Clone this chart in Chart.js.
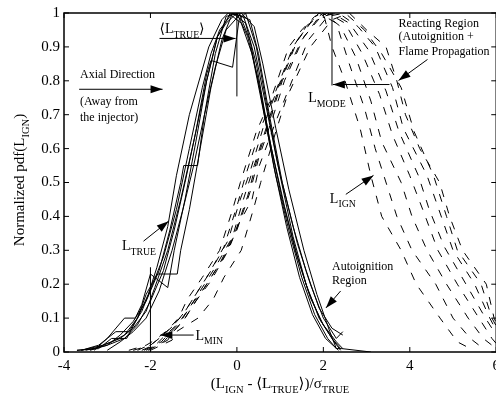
<!DOCTYPE html>
<html><head><meta charset="utf-8">
<script src="https://cdn.jsdelivr.net/npm/chart.js@4/dist/chart.umd.min.js"></script>
<style>html,body{margin:0;padding:0;overflow:hidden;background:#fff}#wrap{width:505px;height:398px;position:relative}</style>
</head><body><div id="wrap"><canvas id="c"></canvas></div>
<script>
// ---- tick labels ----
const xTickLabels = ['-4','-2','0','2','4','6'];
const yTickLabels = ['0','0.1','0.2','0.3','0.4','0.5','0.6','0.7','0.8','0.9','1'];

// ---- L_TRUE pdf curves (solid) : [x, y] ----
const trueCurve1 = [[-3.7,0.005],[-3.3,0.01],[-2.9,0.03],[-2.6,0.05],[-2.3,0.1],[-2.05,0.17],[-1.85,0.25],[-1.6,0.37],[-1.4,0.52],[-1.1,0.7],[-0.65,0.9],[-0.35,0.98],[-0.2,1.0],[0.1,0.97],[0.35,0.88],[0.6,0.72],[0.9,0.52],[1.2,0.36],[1.5,0.22],[1.8,0.11],[2.1,0.04],[2.3,0.01]];
const trueCurve2 = [[-3.6,0.005],[-3.1,0.02],[-2.7,0.04],[-2.4,0.07],[-2.1,0.12],[-1.9,0.19],[-1.6,0.3],[-1.3,0.45],[-1.0,0.62],[-0.7,0.8],[-0.45,0.93],[-0.25,0.97],[0.0,1.0],[0.25,0.93],[0.5,0.8],[0.8,0.6],[1.1,0.43],[1.4,0.28],[1.7,0.16],[2.0,0.08],[2.3,0.03],[2.45,0.01]];
const trueCurve3 = [[-3.5,0.005],[-3.0,0.02],[-2.6,0.04],[-2.3,0.08],[-2.0,0.15],[-1.7,0.24],[-1.45,0.36],[-1.2,0.5],[-0.95,0.65],[-0.7,0.82],[-0.6,0.86],[-0.1,0.84],[0.05,0.98],[0.2,1.0],[0.45,0.9],[0.7,0.72],[1.0,0.52],[1.3,0.34],[1.6,0.2],[1.9,0.1],[2.2,0.04],[2.4,0.01]];
const trueCurve4 = [[-3.4,0.005],[-3.0,0.02],[-2.7,0.05],[-2.4,0.09],[-2.1,0.15],[-1.8,0.24],[-1.55,0.36],[-1.3,0.5],[-1.23,0.55],[-0.91,0.55],[-0.75,0.7],[-0.5,0.88],[-0.25,0.99],[0.05,1.0],[0.3,0.92],[0.55,0.76],[0.85,0.55],[1.15,0.37],[1.45,0.22],[1.75,0.11],[2.05,0.04],[2.35,0.005]];
const trueCurve5 = [[-3.7,0.005],[-3.2,0.01],[-2.9,0.04],[-2.55,0.04],[-2.3,0.1],[-2.1,0.17],[-1.84,0.23],[-1.38,0.23],[-1.3,0.3],[-1.1,0.42],[-0.85,0.6],[-0.6,0.78],[-0.35,0.92],[-0.1,1.0],[0.2,0.97],[0.45,0.85],[0.75,0.63],[1.05,0.45],[1.35,0.3],[1.65,0.18],[1.95,0.09],[2.25,0.03],[2.4,0.005]];
const trueCurve6 = [[-3.3,0.005],[-3.0,0.04],[-2.6,0.1],[-2.35,0.1],[-2.2,0.14],[-2.0,0.23],[-1.6,0.19],[-1.45,0.3],[-1.2,0.45],[-0.95,0.62],[-0.7,0.8],[-0.45,0.93],[-0.15,1.0],[0.15,0.99],[0.4,0.9],[0.65,0.74],[0.95,0.55],[1.3,0.37],[1.6,0.24],[1.9,0.13],[2.2,0.07],[2.45,0.05]];
const trueCurve7 = [[-3.0,0.005],[-2.7,0.03],[-2.4,0.06],[-2.1,0.1],[-1.8,0.18],[-1.5,0.3],[-1.25,0.42],[-1.0,0.55],[-0.75,0.7],[-0.5,0.84],[-0.25,0.95],[0.1,1.0],[0.4,0.96],[0.6,0.85],[0.9,0.66],[1.2,0.48],[1.55,0.3],[1.85,0.17],[2.15,0.06],[2.3,0.01],[2.43,0.01],[3.1,0.0]];
const trueCurve8 = [[-3.6,0.005],[-3.2,0.02],[-2.8,0.06],[-2.5,0.06],[-2.2,0.12],[-1.95,0.2],[-1.7,0.28],[-1.4,0.42],[-1.1,0.6],[-0.8,0.78],[-0.6,0.88],[-0.4,0.95],[-0.1,1.0],[0.3,0.98],[0.5,0.88],[0.75,0.7],[1.05,0.5],[1.4,0.32],[1.7,0.2],[2.0,0.1],[2.3,0.04],[2.45,0.06]];

// ---- L_IGN pdf curves (dashed) : [x, y] ----
const ignCurve1 = [[-2.5,0.005],[-2.1,0.02],[-1.9,0.035],[-1.6,0.065],[-1.35,0.1],[-1.15,0.155],[-0.8,0.22],[-0.4,0.3],[-0.1,0.42],[0.08,0.5],[0.45,0.65],[0.8,0.75],[1.2,0.9],[1.5,0.95],[1.8,0.99],[2.0,1.0],[2.2,0.9],[2.5,0.8],[2.85,0.66],[3.1,0.52],[3.35,0.4],[3.8,0.3],[4.15,0.2],[4.7,0.1],[5.1,0.03],[5.4,0.01]];
const ignCurve2 = [[-2.4,0.005],[-2.0,0.02],[-1.8,0.04],[-1.5,0.075],[-1.25,0.11],[-1.0,0.16],[-0.7,0.22],[-0.3,0.31],[0.0,0.43],[0.2,0.52],[0.55,0.66],[0.9,0.77],[1.3,0.9],[1.6,0.96],[1.9,1.0],[2.3,0.97],[2.6,0.85],[2.95,0.72],[3.2,0.6],[3.5,0.48],[3.7,0.4],[4.05,0.3],[4.6,0.2],[5.0,0.1],[5.4,0.04],[5.7,0.01]];
const ignCurve3 = [[-2.3,0.005],[-1.95,0.025],[-1.75,0.045],[-1.45,0.08],[-1.2,0.12],[-0.95,0.17],[-0.6,0.24],[-0.2,0.33],[0.05,0.44],[0.3,0.53],[0.65,0.68],[0.95,0.78],[1.35,0.91],[1.7,0.97],[2.0,1.0],[2.4,0.96],[2.75,0.87],[3.1,0.74],[3.35,0.62],[3.8,0.5],[4.05,0.4],[4.4,0.3],[4.85,0.2],[5.35,0.1],[5.7,0.04],[6.0,0.01]];
const ignCurve4 = [[-2.2,0.005],[-1.85,0.025],[-1.65,0.05],[-1.35,0.085],[-1.1,0.13],[-0.85,0.18],[-0.5,0.25],[-0.1,0.34],[0.15,0.45],[0.4,0.55],[0.75,0.69],[1.0,0.79],[1.4,0.92],[1.75,0.98],[2.1,1.0],[2.5,0.97],[2.9,0.88],[3.3,0.76],[3.6,0.64],[4.0,0.52],[4.3,0.42],[4.65,0.3],[5.1,0.2],[5.6,0.1],[5.9,0.04],[6.1,0.01]];
const ignCurve5 = [[-2.15,0.005],[-1.75,0.03],[-1.6,0.05],[-1.3,0.09],[-1.05,0.14],[-0.75,0.19],[-0.4,0.26],[-0.05,0.35],[0.25,0.46],[0.45,0.56],[0.8,0.7],[1.05,0.8],[1.5,0.92],[1.85,0.98],[2.2,1.0],[2.6,0.97],[3.05,0.89],[3.45,0.77],[3.75,0.65],[4.2,0.52],[4.45,0.42],[4.8,0.31],[5.3,0.2],[5.75,0.1],[6.05,0.04]];
const ignCurve6 = [[-2.1,0.005],[-1.7,0.03],[-1.55,0.05],[-1.25,0.09],[-1.0,0.14],[-0.7,0.2],[-0.3,0.28],[0.0,0.36],[0.3,0.47],[0.5,0.57],[0.85,0.7],[1.1,0.8],[1.55,0.93],[1.95,0.99],[2.35,1.0],[2.8,0.96],[3.2,0.9],[3.6,0.78],[3.85,0.66],[4.4,0.52],[4.7,0.41],[5.0,0.3],[5.5,0.2],[5.85,0.1],[6.1,0.04]];
const ignCurve7 = [[-2.05,0.005],[-1.6,0.035],[-1.5,0.055],[-1.2,0.1],[-0.95,0.15],[-0.6,0.21],[-0.2,0.3],[0.05,0.38],[0.35,0.45],[0.52,0.55],[0.9,0.68],[1.15,0.76],[1.65,0.92],[2.1,0.99],[2.5,1.0],[2.95,0.95],[3.35,0.88],[3.8,0.78],[4.1,0.65],[4.55,0.52],[4.85,0.4],[5.1,0.3],[5.65,0.2],[5.9,0.1],[6.2,0.03]];
const ignCurve8 = [[-2.0,0.005],[-1.5,0.035],[-1.4,0.06],[-0.9,0.1],[-0.55,0.155],[-0.3,0.22],[0.1,0.3],[0.38,0.42],[0.55,0.5],[0.9,0.65],[1.15,0.75],[1.7,0.9],[2.2,0.98],[2.6,1.0],[3.0,0.95],[3.45,0.9],[3.7,0.8],[3.9,0.7],[4.23,0.6],[4.69,0.5],[4.92,0.4],[5.22,0.3],[5.77,0.2],[5.95,0.1],[6.2,0.03]];

const trueCurves = [trueCurve1,trueCurve2,trueCurve3,trueCurve4,trueCurve5,trueCurve6,trueCurve7,trueCurve8];
const ignCurves = [ignCurve1,ignCurve2,ignCurve3,ignCurve4,ignCurve5,ignCurve6,ignCurve7,ignCurve8];

const FONT = '"Liberation Serif", "DejaVu Serif", serif';
const toPts = c => c.map(([x,y]) => ({x, y}));
const datasets = [];
trueCurves.forEach(c => datasets.push({data: toPts(c), showLine:true, borderColor:'#000', borderWidth:1, pointRadius:0, tension:0}));
ignCurves.forEach(c => datasets.push({data: toPts(c), showLine:true, borderColor:'#000', borderWidth:1, borderDash:[8,9], pointRadius:0, tension:0}));

function rich(ctx, parts, x, y, size, align) {
  const w = parts.reduce((s,[t,sub]) => { ctx.font = (sub?size*0.7:size)+'px '+FONT; return s + ctx.measureText(t).width; }, 0);
  let cx = align === 'center' ? x - w/2 : x;
  ctx.textAlign = 'left'; ctx.textBaseline = 'alphabetic';
  parts.forEach(([t,sub]) => {
    ctx.font = (sub?size*0.7:size)+'px '+FONT;
    ctx.fillText(t, cx, y + (sub ? size*0.3 : 0));
    cx += ctx.measureText(t).width;
  });
}
function arrow(ctx, x1, y1, x2, y2) {
  ctx.beginPath(); ctx.moveTo(x1,y1); ctx.lineTo(x2,y2); ctx.stroke();
  const a = Math.atan2(y2-y1, x2-x1), L = 12, H = 4;
  ctx.beginPath();
  ctx.moveTo(x2,y2);
  ctx.lineTo(x2 - L*Math.cos(a) + H*Math.sin(a), y2 - L*Math.sin(a) - H*Math.cos(a));
  ctx.lineTo(x2 - L*Math.cos(a) - H*Math.sin(a), y2 - L*Math.sin(a) + H*Math.cos(a));
  ctx.closePath(); ctx.fill();
}

const deco = {
  id: 'deco',
  afterDatasetsDraw(chart) {
    const {ctx, chartArea:a, scales:{x, y}} = chart;
    const X = v => x.getPixelForValue(v), Y = v => y.getPixelForValue(v);
    ctx.save();
    ctx.strokeStyle = '#000'; ctx.fillStyle = '#000';
    ctx.lineWidth = 1.5;
    ctx.strokeRect(a.left, a.top, a.right - a.left, a.bottom - a.top);
    ctx.lineWidth = 1;
    const seg = (x1,y1,x2,y2) => { ctx.beginPath(); ctx.moveTo(x1,y1); ctx.lineTo(x2,y2); ctx.stroke(); };
    x.ticks.forEach(t => { const p = X(t.value); seg(p,a.bottom,p,a.bottom-5); seg(p,a.top,p,a.top+5); });
    y.ticks.forEach(t => { const p = Y(t.value); seg(a.left,p,a.left+5,p); seg(a.right,p,a.right-5,p); });

    // reference lines
    seg(X(0), Y(1), X(0), Y(0.754));
    seg(X(2.2), Y(1), X(2.2), Y(0.786));
    seg(X(-2), Y(0), X(-2), Y(0.25));

    // arrows
    arrow(ctx, X(-1.79), Y(0.925), X(-0.03), Y(0.925));
    arrow(ctx, X(-3.65), Y(0.775), X(-1.72), Y(0.775));
    arrow(ctx, X(3.53), Y(0.789), X(2.22), Y(0.789));
    arrow(ctx, X(4.41), Y(0.863), X(3.74), Y(0.801));
    arrow(ctx, X(2.52), Y(0.465), X(3.16), Y(0.521));
    arrow(ctx, X(-2.16), Y(0.327), X(-1.58), Y(0.386));
    arrow(ctx, X(2.4), Y(0.18), X(2.06), Y(0.13));
    arrow(ctx, X(-1.0), Y(0.05), X(-1.77), Y(0.05));

    // labels
    rich(ctx, [['\u27E8L',0],['TRUE',1],['\u27E9',0]], X(-1.79), Y(0.94), 14);
    rich(ctx, [['Axial Direction',0]], X(-3.63), Y(0.807), 12);
    rich(ctx, [['(Away from',0]], X(-3.63), Y(0.7275), 12);
    rich(ctx, [['the injector)',0]], X(-3.63), Y(0.68), 12);
    rich(ctx, [['L',0],['MODE',1]], X(1.65), Y(0.736), 14);
    rich(ctx, [['Reacting Region',0]], X(3.74), Y(0.96), 12);
    rich(ctx, [['(Autoignition +',0]], X(3.74), Y(0.919), 12);
    rich(ctx, [['Flame Propagation',0]], X(3.74), Y(0.875), 12);
    rich(ctx, [['L',0],['IGN',1]], X(2.15), Y(0.439), 14);
    rich(ctx, [['L',0],['TRUE',1]], X(-2.66), Y(0.30), 14);
    rich(ctx, [['Autoignition',0]], X(2.2), Y(0.2415), 12);
    rich(ctx, [['Region',0]], X(2.2), Y(0.2), 12);
    rich(ctx, [['L',0],['MIN',1]], X(-0.96), Y(0.035), 14);

    // axis titles
    rich(ctx, [['(L',0],['IGN',1],[' - \u27E8L',0],['TRUE',1],['\u27E9)/\u03C3',0],['TRUE',1]], 280, 388, 15, 'center');
    ctx.translate(24, 180); ctx.rotate(-Math.PI/2);
    rich(ctx, [['Normalized pdf(L',0],['IGN',1],[')',0]], 0, 0, 15, 'center');
    ctx.restore();
  }
};

new Chart(document.getElementById('c'), {
  type: 'scatter',
  data: {datasets},
  options: {
    responsive: true, maintainAspectRatio: false, animation: false,
    layout: {padding: {top: 12, right: 8, left: 0, bottom: 0}},
    plugins: {legend: {display: false}, tooltip: {enabled: false}},
    scales: {
      x: {type: 'linear', min: -4, max: 6,
        ticks: {stepSize: 2, color: '#000', padding: 5, maxRotation: 0, autoSkip: false, font: {family: FONT, size: 15}, callback: (v, i) => xTickLabels[i]},
        grid: {display: false, drawTicks: false}, border: {display: false},
        afterFit: s => { s.height = 46; }},
      y: {type: 'linear', min: 0, max: 1,
        ticks: {stepSize: 0.1, color: '#000', padding: 4, autoSkip: false, font: {family: FONT, size: 15}, callback: (v, i) => yTickLabels[i]},
        grid: {display: false, drawTicks: false}, border: {display: false},
        afterFit: s => { s.width = 64; }}
    }
  },
  plugins: [deco]
});
</script></body></html>
